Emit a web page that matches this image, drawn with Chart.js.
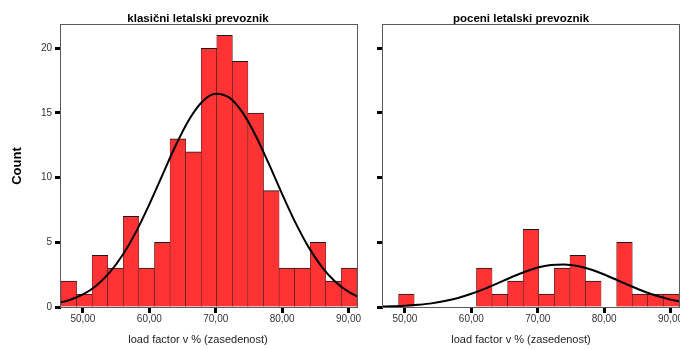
<!DOCTYPE html>
<html>
<head>
<meta charset="utf-8">
<script src="https://cdn.jsdelivr.net/npm/chart.js@4/dist/chart.umd.min.js"></script>
<style>
  html, body { margin: 0; padding: 0; background: #ffffff; }
  #wrap { position: relative; width: 680px; height: 350px; overflow: hidden; }
  #wrap canvas { position: absolute; top: 0; }
  #panelA { left: 0; }
  #panelB { left: 362px; }
</style>
</head>
<body>
<div id="wrap">
  <canvas id="panelA" width="396" height="350"></canvas>
  <canvas id="panelB" width="318" height="350"></canvas>
</div>
<script>
// Histogram bin edges (load factor, %), shared by both panels
const binEdges = [46.70, 49.05, 51.39, 53.74, 56.08, 58.43, 60.78, 63.12, 65.47, 67.81,
                  70.16, 72.50, 74.85, 77.20, 79.54, 81.89, 84.23, 86.58, 88.92, 91.27];

// Counts per bin
const countsClassic = [2, 1, 4, 3, 7, 3, 5, 13, 12, 20, 21, 19, 15, 9, 3, 3, 5, 2, 3];
const countsLowCost = [0, 1, 0, 0, 0, 0, 3, 1, 2, 6, 1, 3, 4, 2, 0, 5, 1, 1, 1];

// Normal curve overlay, sampled along the x axis
const curveX = [46.70, 48, 50, 52, 54, 56, 58, 60, 62, 64, 66, 68, 70, 72, 74, 76, 78, 80,
                82, 84, 86, 88, 90, 91.27];
const curveClassic = [0.36, 0.54, 0.97, 1.65, 2.65, 4.04, 5.81, 7.93, 10.24, 12.52, 14.50,
                      15.89, 16.49, 16.20, 15.06, 13.26, 11.06, 8.73, 6.52, 4.61, 3.09,
                      1.96, 1.18, 0.83];
const curveLowCost = [0.03, 0.05, 0.09, 0.17, 0.28, 0.46, 0.70, 1.02, 1.40, 1.84, 2.30,
                      2.71, 3.05, 3.25, 3.29, 3.17, 2.90, 2.51, 2.07, 1.62, 1.20, 0.85,
                      0.57, 0.43];

// Axis ticks
const xTickValues = [50, 60, 70, 80, 90];
const xTickLabels = ['50,00', '60,00', '70,00', '80,00', '90,00'];
const yTickValues = [0, 5, 10, 15, 20];
const yTickLabels = ['0', '5', '10', '15', '20'];

const panelTitles = ['klasični letalski prevoznik', 'poceni letalski prevoznik'];
const xAxisTitle = 'load factor v % (zasedenost)';
const yAxisTitle = 'Count';

const X_MIN = binEdges[0];
const X_MAX = binEdges[binEdges.length - 1];
const Y_MAX = 21.8;

Chart.defaults.font.family = "'Liberation Sans', Arial, sans-serif";
Chart.defaults.color = '#333333';

// Frame drawn around the plotting area
const frame = {
  id: 'frame',
  afterDatasetsDraw(chart) {
    const a = chart.chartArea;
    const ctx = chart.ctx;
    ctx.save();
    ctx.strokeStyle = '#5a5a5a';
    ctx.lineWidth = 1;
    ctx.strokeRect(a.left - 0.5, a.top - 0.5, a.right - a.left + 1, a.bottom - a.top + 1);
    ctx.restore();
  }
};

function makePanel(canvasId, title, counts, curve, showYLabels, yWidth, gapWidth) {
  const bars = counts.map((c, i) => ({ x: (binEdges[i] + binEdges[i + 1]) / 2, y: c }));
  const line = curveX.map((x, i) => ({ x: x, y: curve[i] }));
  return new Chart(document.getElementById(canvasId), {
    type: 'bar',
    data: {
      datasets: [
        {
          type: 'line',
          data: line,
          borderColor: '#000000',
          borderWidth: 2,
          pointRadius: 0,
          cubicInterpolationMode: 'monotone',
          fill: false,
          order: 0
        },
        {
          type: 'bar',
          data: bars,
          backgroundColor: '#ff3333',
          borderColor: '#1a1a1a',
          borderWidth: { top: 1, left: 0.5, right: 0.5, bottom: 0 },
          borderSkipped: false,
          barPercentage: 1,
          categoryPercentage: 1,
          order: 1
        }
      ]
    },
    options: {
      responsive: false,
      devicePixelRatio: 1,
      animation: false,
      events: [],
      layout: { padding: 0 },
      plugins: {
        legend: { display: false },
        tooltip: { enabled: false },
        title: {
          display: true,
          text: title,
          color: '#000000',
          font: { size: 11.5, weight: 'bold', lineHeight: 1 },
          padding: { top: 13.5, bottom: 0 }
        },
        subtitle: {
          display: true,
          position: 'bottom',
          text: xAxisTitle,
          color: '#222222',
          font: { size: 11, weight: 'normal', lineHeight: 1.2 },
          padding: { top: 2.8, bottom: 3 }
        }
      },
      scales: {
        x: {
          type: 'linear',
          position: 'bottom',
          min: X_MIN,
          max: X_MAX,
          offset: false,
          afterBuildTicks: (s) => { s.ticks = xTickValues.map(v => ({ value: v })); },
          afterFit: (s) => { s.height = 24; s.paddingLeft = 0; s.paddingRight = 0; },
          ticks: {
            autoSkip: false,
            maxRotation: 0,
            padding: 0,
            color: '#333333',
            font: { size: 10 },
            callback: (v) => xTickLabels[xTickValues.indexOf(v)]
          },
          grid: {
            offset: false,
            drawOnChartArea: false,
            drawTicks: true,
            tickLength: 6,
            tickWidth: 3,
            tickColor: '#000000'
          },
          border: { display: false }
        },
        y: {
          type: 'linear',
          position: 'left',
          min: 0,
          max: Y_MAX,
          afterBuildTicks: (s) => { s.ticks = yTickValues.map(v => ({ value: v })); },
          afterFit: (s) => { s.width = yWidth; s.paddingTop = 0; s.paddingBottom = 0; },
          ticks: {
            display: showYLabels,
            padding: 3,
            color: '#333333',
            font: { size: 10 },
            callback: (v) => yTickLabels[yTickValues.indexOf(v)]
          },
          grid: {
            drawOnChartArea: false,
            drawTicks: true,
            tickLength: 6,
            tickWidth: 3,
            tickColor: '#000000'
          },
          border: { display: false },
          title: {
            display: showYLabels,
            text: yAxisTitle,
            color: '#000000',
            font: { size: 13, weight: 'bold', lineHeight: 1.2 },
            padding: { top: 10, bottom: 0 }
          }
        },
        gap: {
          type: 'linear',
          position: 'right',
          display: true,
          afterFit: (s) => { s.width = gapWidth; },
          ticks: { display: false },
          grid: { display: false },
          border: { display: false }
        }
      }
    },
    plugins: [frame]
  });
}

makePanel('panelA', panelTitles[0], countsClassic, curveClassic, true, 61, 39);
makePanel('panelB', panelTitles[1], countsLowCost, curveLowCost, false, 21, 1);
</script>
</body>
</html>
